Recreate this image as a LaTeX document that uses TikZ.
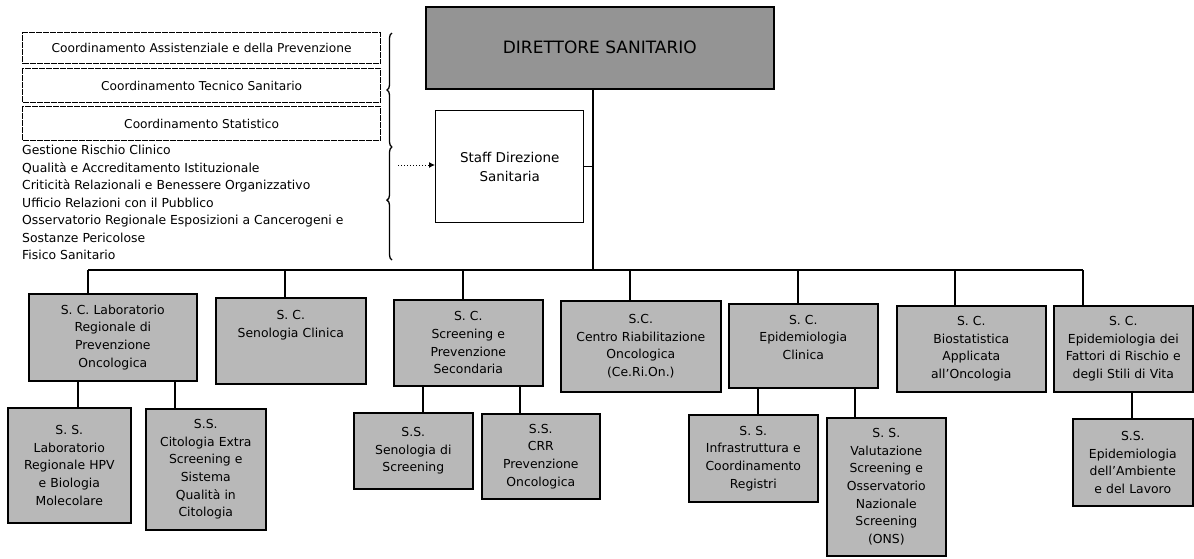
\documentclass[tikz,border=0pt]{standalone}
\usepackage{fontspec}
\setmainfont{DejaVu Sans}
\usetikzlibrary{arrows.meta,decorations.pathreplacing}
\begin{document}
\begin{tikzpicture}[x=1pt,y=-1pt,
  unit/.style={draw=black,line width=1.6pt,fill=black!28,align=center,font=\fontsize{12.4}{17.6}\selectfont,inner sep=2pt},
  topbox/.style={draw=black,line width=1.6pt,fill=black!42,font=\fontsize{17}{19}\selectfont},
  staffbox/.style={draw=black,line width=1.4pt,fill=white,align=center,font=\fontsize{13.5}{19}\selectfont},
  coordbox/.style={draw=black,line width=1.2pt,dashed,dash pattern=on 6pt off 1pt,font=\fontsize{12.2}{14}\selectfont},
  link/.style={line width=1.4pt,draw=black},
  dotlink/.style={line width=1pt,dotted,-{Latex[length=6pt,width=6pt]}}]
\useasboundingbox (0,0) rectangle (1194,558);
% helper to place box by corners
\newcommand{\ubox}[7]{\node[#1,minimum width=#5-#3,minimum height=#6-#4,text width=#5-#3-6,anchor=north west] (#2) at (#3,#4) {#7};}
% top
\node[topbox,minimum width=348,minimum height=82,anchor=north west] (dir) at (425,6) {DIRETTORE SANITARIO};
\node[staffbox,minimum width=148,minimum height=112,anchor=north west] (staff) at (435,110) {Staff Direzione\\Sanitaria};
% coordination boxes
\node[coordbox,minimum width=358,minimum height=31,anchor=north west] (c1) at (22,32) {Coordinamento Assistenziale e della Prevenzione};
\node[coordbox,minimum width=358,minimum height=34,anchor=north west] (c2) at (22,68) {Coordinamento Tecnico Sanitario};
\node[coordbox,minimum width=358,minimum height=34,anchor=north west] (c3) at (22,106) {Coordinamento Statistico};
\node[anchor=north west,align=left,inner sep=0pt,font=\fontsize{12.4}{17.5}\selectfont] (list) at (22,145) {Gestione Rischio Clinico\\
Qualità e Accreditamento Istituzionale\\
Criticità Relazionali e Benessere Organizzativo\\
Ufficio Relazioni con il Pubblico\\
Osservatorio Regionale Esposizioni a Cancerogeni e\\
Sostanze Pericolose\\
Fisico Sanitario};
% braces
\coordinate (b1t) at (392,33);
\coordinate (b1b) at (392,147);
\coordinate (b2b) at (392,260);
\draw[line width=1.3pt,decorate,decoration={brace,amplitude=5pt,mirror}] (b1t) -- (b1b);
\draw[line width=1.3pt,decorate,decoration={brace,amplitude=5pt,mirror,aspect=0.47}] (b1b) -- (b2b);
\coordinate (arrstart) at (398,165);
\draw[dotlink] (arrstart) -- (arrstart -| staff.west);
% level 1
\ubox{unit}{lab}{28}{293}{196}{380}{S. C. Laboratorio\\Regionale di\\Prevenzione\\Oncologica}
\ubox{unit}{sen}{215}{297}{365}{383}{S. C.\\Senologia Clinica\\[16pt]\mbox{}}
\ubox{unit}{scr}{393}{299}{542}{385}{S. C.\\Screening e\\Prevenzione\\Secondaria}
\ubox{unit}{cer}{560}{300}{720}{391}{S.C.\\Centro Riabilitazione\\Oncologica\\(Ce.Ri.On.)}
\ubox{unit}{epc}{728}{303}{877}{387}{S. C.\\Epidemiologia\\Clinica\\\mbox{}}
\ubox{unit}{bio}{896}{305}{1045}{391}{S. C.\\Biostatistica\\Applicata\\all'Oncologia}
\ubox{unit}{epf}{1053}{305}{1192}{391}{S. C.\\Epidemiologia dei\\Fattori di Rischio e\\degli Stili di Vita}
% level 2
\ubox{unit}{hpv}{7}{407}{130}{522}{S. S.\\Laboratorio\\Regionale HPV\\e Biologia\\Molecolare}
\ubox{unit}{cit}{145}{408}{265}{529}{S.S.\\Citologia Extra\\Screening e\\Sistema\\Qualità in\\Citologia}
\ubox{unit}{ssc}{353}{412}{472}{488}{S.S.\\Senologia di\\Screening}
\ubox{unit}{crr}{481}{413}{599}{498}{S.S.\\CRR\\Prevenzione\\Oncologica}
\ubox{unit}{inf}{688}{414}{817}{501}{S. S.\\Infrastruttura e\\Coordinamento\\Registri}
\ubox{unit}{val}{826}{417}{945}{555}{S. S.\\Valutazione\\Screening e\\Osservatorio\\Nazionale\\Screening\\(ONS)}
\ubox{unit}{amb}{1072}{418}{1192}{505}{S.S.\\Epidemiologia\\dell'Ambiente\\e del Lavoro}
% connectors
\coordinate (bus) at (593,270);
\draw[link] (dir.south -| bus) -- (bus);
\draw[link] (staff.east) -- (staff.east -| bus);
\coordinate (dlab) at (88,270);
\coordinate (dsen) at (285,270);
\coordinate (dscr) at (463,270);
\coordinate (dcer) at (630,270);
\coordinate (depc) at (798,270);
\coordinate (dbio) at (955,270);
\coordinate (depf) at (1083,270);
\draw[link] (dlab) -- (depf);
\foreach \d/\n in {dlab/lab,dsen/sen,dscr/scr,dcer/cer,depc/epc,dbio/bio,depf/epf}
  \draw[link] (\d) -- (\d |- \n.north);
\coordinate (khpv) at (78,0);
\coordinate (kcit) at (175,0);
\coordinate (kssc) at (423,0);
\coordinate (kcrr) at (520,0);
\coordinate (kinf) at (758,0);
\coordinate (kval) at (855,0);
\coordinate (kamb) at (1132,0);
\foreach \k/\p/\c in {khpv/lab/hpv,kcit/lab/cit,kssc/scr/ssc,kcrr/scr/crr,kinf/epc/inf,kval/epc/val,kamb/epf/amb}
  \draw[link] (\p.south -| \k) -- (\c.north -| \k);
\end{tikzpicture}
\end{document}
